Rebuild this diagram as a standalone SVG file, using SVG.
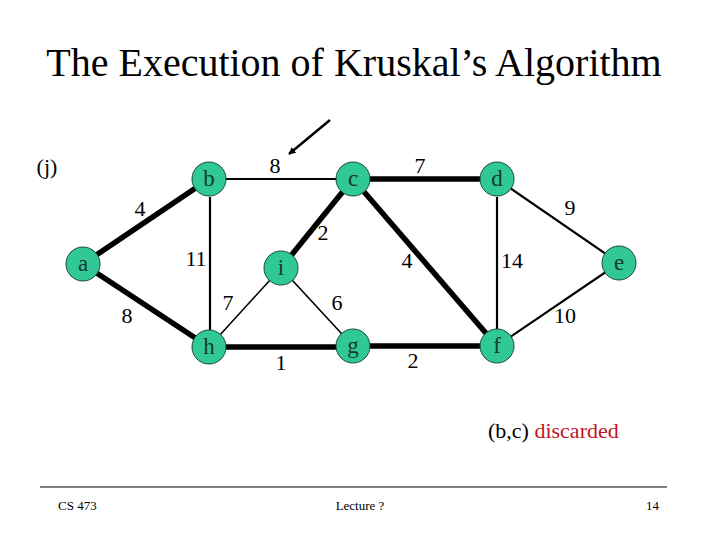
<svg xmlns="http://www.w3.org/2000/svg" width="720" height="540" viewBox="0 0 720 540">
<defs>
<marker id="ah" viewBox="0 0 10 10" refX="9" refY="5" markerWidth="7" markerHeight="7" orient="auto" markerUnits="userSpaceOnUse">
<path d="M0,0 L10,5 L0,10 z" fill="#000"/>
</marker>
</defs>
<rect width="720" height="540" fill="#fff"/>
<text x="354" y="76" font-size="40" text-anchor="middle" font-family="Liberation Serif">The Execution of Kruskal&#8217;s Algorithm</text>
<text x="47" y="174" font-size="22" text-anchor="middle" font-family="Liberation Serif">(j)</text>
<g id="connectors" stroke="#000">
<g stroke-width="5.5">
<line x1="83" y1="264" x2="209" y2="179"/>
<line x1="83" y1="264" x2="209" y2="347"/>
<line x1="353" y1="179" x2="281" y2="268"/>
<line x1="353" y1="179" x2="497" y2="179"/>
<line x1="353" y1="179" x2="497" y2="346"/>
<line x1="209" y1="347" x2="353" y2="347"/>
<line x1="353" y1="346" x2="497" y2="346"/>
</g>
<g stroke-width="2.2">
<line x1="209" y1="179" x2="353" y2="179"/>
<line x1="210" y1="197" x2="210" y2="347"/>
<line x1="497" y1="197" x2="497" y2="346"/>
<line x1="497" y1="179" x2="619" y2="263"/>
<line x1="619" y1="263" x2="497" y2="346"/>
</g>
<g stroke-width="1.6">
<line x1="281" y1="268" x2="209" y2="347"/>
<line x1="281" y1="268" x2="353" y2="346"/>
</g>
<line stroke-width="2.5" x1="330" y1="120" x2="289" y2="154" marker-end="url(#ah)"/>
</g>
<g id="edge-labels" font-family="Liberation Serif" font-size="22" text-anchor="middle" fill="#000">
<text x="140" y="216">4</text>
<text x="275" y="173">8</text>
<text x="196" y="266">11</text>
<text x="323" y="240">2</text>
<text x="228" y="310">7</text>
<text x="337" y="310">6</text>
<text x="127" y="323">8</text>
<text x="281" y="370">1</text>
<text x="420" y="173">7</text>
<text x="570" y="215">9</text>
<text x="407" y="268">4</text>
<text x="512" y="268">14</text>
<text x="565" y="323">10</text>
<text x="413" y="368">2</text>
</g>
<g id="nodes" font-family="Liberation Serif" font-size="23" text-anchor="middle">
<g id="node-a"><circle cx="83" cy="264" r="17" fill="#30c896" stroke="#1a4a34"/><text x="83" y="271" fill="#153a2a">a</text></g>
<g id="node-b"><circle cx="209" cy="179" r="17" fill="#30c896" stroke="#1a4a34"/><text x="209" y="186" fill="#153a2a">b</text></g>
<g id="node-c"><circle cx="353" cy="179" r="17" fill="#30c896" stroke="#1a4a34"/><text x="353" y="186" fill="#153a2a">c</text></g>
<g id="node-d"><circle cx="497" cy="179" r="17" fill="#30c896" stroke="#1a4a34"/><text x="497" y="186" fill="#153a2a">d</text></g>
<g id="node-e"><circle cx="619" cy="263" r="17" fill="#30c896" stroke="#1a4a34"/><text x="619" y="270" fill="#153a2a">e</text></g>
<g id="node-f"><circle cx="497" cy="346" r="17" fill="#30c896" stroke="#1a4a34"/><text x="497" y="353" fill="#153a2a">f</text></g>
<g id="node-g"><circle cx="353" cy="346" r="17" fill="#30c896" stroke="#1a4a34"/><text x="353" y="353" fill="#153a2a">g</text></g>
<g id="node-h"><circle cx="209" cy="347" r="17" fill="#30c896" stroke="#1a4a34"/><text x="209" y="354" fill="#153a2a">h</text></g>
<g id="node-i"><circle cx="281" cy="268" r="17" fill="#30c896" stroke="#1a4a34"/><text x="281" y="275" fill="#153a2a">i</text></g>
</g>
<text x="488" y="438" font-size="22" font-family="Liberation Serif">(b,c) <tspan fill="#c0141e">discarded</tspan></text>
<line x1="40" y1="487" x2="667" y2="487" stroke="#000" stroke-width="1.2"/>
<g font-family="Liberation Serif" font-size="13">
<text x="58" y="510">CS 473</text>
<text x="360" y="510" text-anchor="middle">Lecture ?</text>
<text x="659" y="510" text-anchor="end">14</text>
</g>
</svg>
